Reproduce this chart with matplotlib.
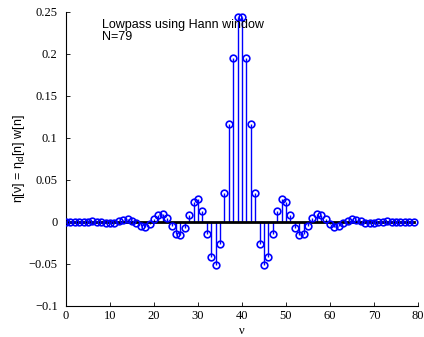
import matplotlib.pyplot as plt

n = list(range(80))
h = [
    0.0000, 0.0000, -0.0001, -0.0001, 0.0001, 0.0003, 0.0005, 0.0003,
    -0.0004, -0.0012, -0.0015, -0.0008, 0.0009, 0.0027, 0.0032, 0.0016,
    -0.0018, -0.0051, -0.0059, -0.0028, 0.0032, 0.0087, 0.0099, 0.0046,
    -0.0052, -0.0143, -0.0161, -0.0075, 0.0085, 0.0234, 0.0268, 0.0128,
    -0.0148, -0.0423, -0.0510, -0.0262, 0.0341, 0.1165, 0.1954, 0.2435,
    0.2435, 0.1954, 0.1165, 0.0341, -0.0262, -0.0510, -0.0423, -0.0148,
    0.0128, 0.0268, 0.0234, 0.0085, -0.0075, -0.0161, -0.0143, -0.0052,
    0.0046, 0.0099, 0.0087, 0.0032, -0.0028, -0.0059, -0.0051, -0.0018,
    0.0016, 0.0032, 0.0027, 0.0009, -0.0008, -0.0015, -0.0012, -0.0004,
    0.0003, 0.0005, 0.0003, 0.0001, -0.0001, -0.0001, 0.0000, 0.0000,
]
xticks = [0, 10, 20, 30, 40, 50, 60, 70, 80]
yticks = [-0.1, -0.05, 0, 0.05, 0.1, 0.15, 0.2, 0.25]
yticklabels = ["\u22120.1", "\u22120.05", "0", "0.05", "0.1", "0.15", "0.2", "0.25"]

fig = plt.figure(figsize=(4.24, 3.37), dpi=100)
ax = fig.add_axes([66 / 424, 31 / 337, 352 / 424, 294.3 / 337])

markerline, stemlines, baseline = ax.stem(n, h, basefmt="k-")
plt.setp(markerline, marker="o", markersize=4.8, markerfacecolor="none",
         markeredgecolor="blue", markeredgewidth=1.2, zorder=3)
plt.setp(stemlines, color="blue", linewidth=1.0)
plt.setp(baseline, color="black", linewidth=2.0, zorder=2)

ax.set_xlim(0, 80)
ax.set_ylim(-0.1, 0.25)
ax.set_xticks(xticks)
ax.set_yticks(yticks)
ax.set_yticklabels(yticklabels)
ax.tick_params(direction="in", length=3, width=0.6, labelsize=9)
ax.tick_params(axis="y", pad=6)
ax.tick_params(axis="x", pad=3)
for lbl in ax.get_xticklabels() + ax.get_yticklabels():
    lbl.set_family("Liberation Serif")
ax.spines["top"].set_visible(False)
ax.spines["right"].set_visible(False)
for s in ("left", "bottom"):
    ax.spines[s].set_linewidth(0.8)

ax.text(8.2, 0.2415, "Lowpass using Hann window\nN=79", fontsize=9,
        family="Liberation Sans", va="top", ha="left", linespacing=1.0)
ax.set_xlabel("\u03bd", family="Liberation Serif", fontsize=9, labelpad=2)
ax.set_ylabel("\u03b7[\u03bd] = \u03b7$_\\mathrm{d}$[n] w[n]", family="Liberation Sans",
              fontsize=9, labelpad=1)

fig.savefig("out.png", dpi=100)
